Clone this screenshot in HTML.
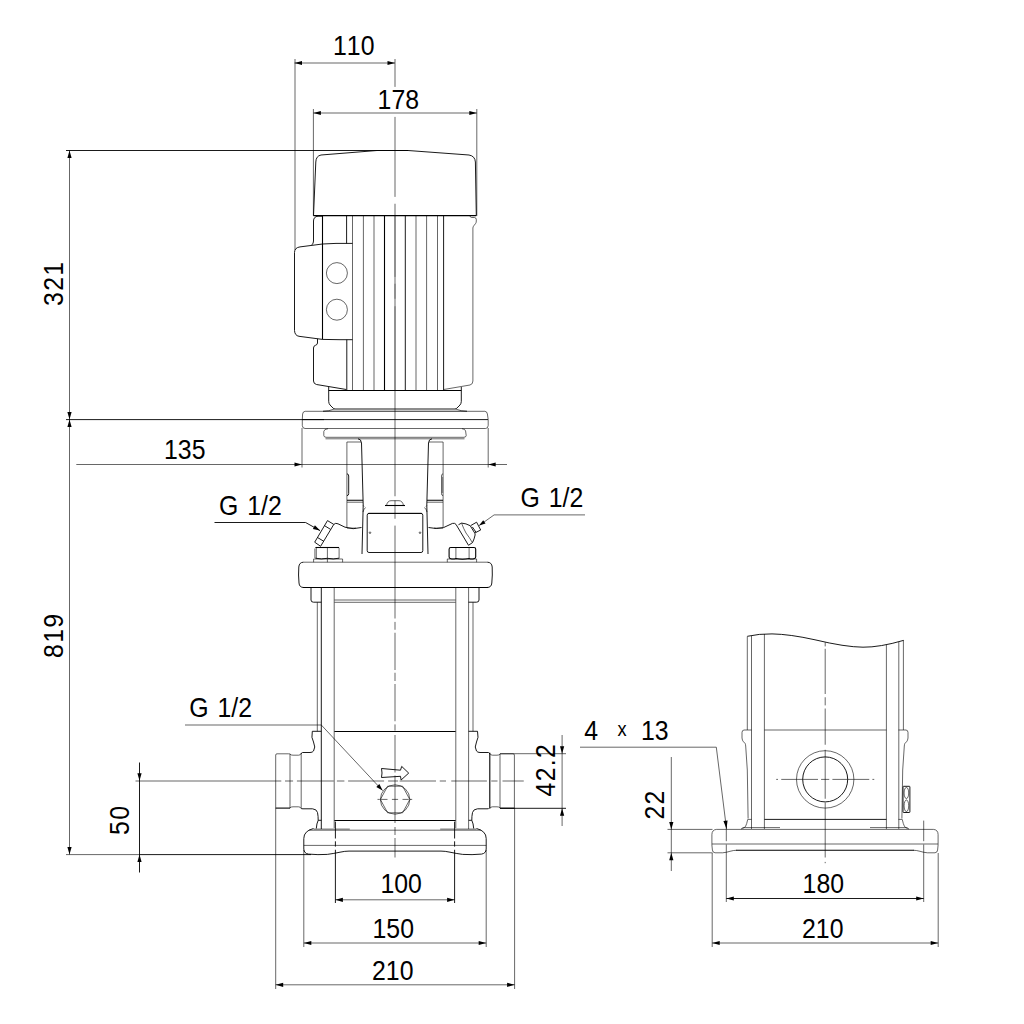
<!DOCTYPE html>
<html lang="en"><head><meta charset="utf-8"><title>Pump dimensional drawing</title>
<style>
html,body{margin:0;padding:0;background:#fff;overflow:hidden;}
body{width:1024px;height:1024px;overflow:hidden;}
svg{display:block;position:absolute;left:0;top:0;}
.k{stroke:#000;stroke-width:0.9;fill:none;}
.d{stroke:#000;stroke-width:1.1;fill:none;}
.g{stroke:#000;stroke-width:0.6;fill:none;}
.c{stroke:#000;stroke-width:0.6;fill:none;}
.h{stroke:#000;stroke-width:0.4;fill:none;}
.a{fill:#000;stroke:none;}
text{font-family:"Liberation Sans",Arial,Helvetica,sans-serif;font-size:27.3px;fill:#000;font-kerning:none;}
</style></head><body>
<svg width="1024" height="1024" viewBox="0 0 1024 1024">
<line class="c" x1="395.0" y1="59" x2="395.0" y2="86.9"/>
<line class="c" x1="395.0" y1="116.9" x2="395.0" y2="196.9"/>
<line class="c" x1="395.0" y1="203.75" x2="395.0" y2="496.25"/>
<line class="c" x1="395.0" y1="500.5" x2="395.0" y2="518.75"/>
<line class="c" x1="395.0" y1="525.6" x2="395.0" y2="618.5"/>
<line class="c" x1="395.0" y1="621.9" x2="395.0" y2="629.75"/>
<line class="c" x1="395.0" y1="632.75" x2="395.0" y2="670"/>
<line class="c" x1="395.0" y1="672.75" x2="395.0" y2="681"/>
<line class="c" x1="395.0" y1="684" x2="395.0" y2="721.25"/>
<line class="c" x1="395.0" y1="724.4" x2="395.0" y2="730.6"/>
<line class="c" x1="395.0" y1="735" x2="395.0" y2="772.5"/>
<line class="c" x1="395.0" y1="775.5" x2="395.0" y2="823"/>
<line class="c" x1="395.0" y1="827" x2="395.0" y2="835"/>
<line class="c" x1="395.0" y1="838" x2="395.0" y2="857.5"/>
<line class="h" x1="395.0" y1="215.6" x2="395.0" y2="276.9"/>
<line class="h" x1="395.0" y1="283.75" x2="395.0" y2="298.75"/>
<line class="h" x1="395.0" y1="306.25" x2="395.0" y2="390"/>
<line class="c" x1="295" y1="59" x2="295" y2="250"/>
<line class="g" x1="294.5" y1="63" x2="395.0" y2="63"/>
<path class="a" d="M294.50 63.00L302.00 60.90L302.00 65.10Z"/>
<path class="a" d="M395.00 63.00L387.50 65.10L387.50 60.90Z"/>
<text transform="translate(333 55) scale(0.91 1)" text-anchor="start">110</text>
<line class="g" x1="313.4" y1="109" x2="313.4" y2="216"/>
<line class="g" x1="476.8" y1="109" x2="476.8" y2="216"/>
<line class="g" x1="313.4" y1="113" x2="476.8" y2="113"/>
<path class="a" d="M313.40 113.00L320.90 110.90L320.90 115.10Z"/>
<path class="a" d="M476.80 113.00L469.30 115.10L469.30 110.90Z"/>
<text transform="translate(377.6 109) scale(0.91 1)" text-anchor="start">178</text>
<line class="k" x1="66" y1="150.5" x2="408" y2="150.5"/>
<line class="g" x1="69.5" y1="150.5" x2="69.5" y2="854.5"/>
<line class="k" x1="66" y1="419.6" x2="324" y2="419.6"/>
<line class="g" x1="66" y1="854.6" x2="139.5" y2="854.6"/>
<line class="k" x1="139.5" y1="854.6" x2="311" y2="854.6"/>
<path class="a" d="M69.50 150.50L71.60 158.00L67.40 158.00Z"/>
<path class="a" d="M69.50 419.50L67.40 412.00L71.60 412.00Z"/>
<path class="a" d="M69.50 419.50L71.60 427.00L67.40 427.00Z"/>
<path class="a" d="M69.50 854.60L67.40 847.10L71.60 847.10Z"/>
<text transform="translate(63 306) rotate(-90) scale(0.91 1)" text-anchor="start" style="letter-spacing:1.5px">321</text>
<text transform="translate(63 658) rotate(-90) scale(0.91 1)" text-anchor="start" style="letter-spacing:1.5px">819</text>
<line class="g" x1="76.3" y1="464.5" x2="507" y2="464.5"/>
<line class="g" x1="302" y1="428" x2="302" y2="467.5"/>
<line class="g" x1="488.2" y1="428" x2="488.2" y2="467.5"/>
<path class="a" d="M302.00 464.50L294.50 466.60L294.50 462.40Z"/>
<path class="a" d="M488.20 464.50L495.70 462.40L495.70 466.60Z"/>
<text transform="translate(164 458.7) scale(0.91 1)" text-anchor="start">135</text>
<text transform="translate(219 515) scale(0.91 1)" text-anchor="start" style="word-spacing:2.2px">G 1/2</text>
<path class="k" d="M214.5 522.5H305.6L320 530.6"/>
<path class="a" d="M320.00 530.60L312.87 529.00L314.93 525.34Z"/>
<text transform="translate(520.5 507) scale(0.91 1)" text-anchor="start" style="word-spacing:2.2px">G 1/2</text>
<path class="g" d="M585 514.9H494.1L479.1 525.6"/>
<path class="a" d="M479.10 525.60L483.18 520.16L485.53 523.40Z"/>
<text transform="translate(189.2 716.8) scale(0.91 1)" text-anchor="start" style="word-spacing:2.2px">G 1/2</text>
<path class="g" d="M185 725H321.3L382.6 790.6"/>
<path class="a" d="M382.60 790.60L376.29 786.92L379.36 784.05Z"/>
<line class="k" x1="139.5" y1="762.5" x2="139.5" y2="872.5"/>
<line class="c" x1="135.5" y1="781" x2="281.25" y2="781"/>
<path class="a" d="M139.50 780.70L137.40 773.20L141.60 773.20Z"/>
<path class="a" d="M139.50 854.60L141.60 862.10L137.40 862.10Z"/>
<text transform="translate(128.5 835) rotate(-90) scale(0.91 1)" text-anchor="start" style="letter-spacing:1.5px">50</text>
<line class="g" x1="500" y1="753.7" x2="566" y2="753.7"/>
<line class="k" x1="500" y1="808.3" x2="566" y2="808.3"/>
<line class="g" x1="562.1" y1="735" x2="562.1" y2="826"/>
<path class="a" d="M562.10 753.70L560.00 746.20L564.20 746.20Z"/>
<path class="a" d="M562.10 808.30L564.20 815.80L560.00 815.80Z"/>
<text transform="translate(555.4 796.5) rotate(-90) scale(0.91 1)" text-anchor="start" style="letter-spacing:1.5px">42.2</text>
<line class="g" x1="335.4" y1="899.8" x2="454.6" y2="899.8"/>
<path class="a" d="M335.40 899.80L342.90 897.70L342.90 901.90Z"/>
<path class="a" d="M454.60 899.80L447.10 901.90L447.10 897.70Z"/>
<text transform="translate(380.4 892.6) scale(0.91 1)" text-anchor="start">100</text>
<line class="g" x1="303.8" y1="850" x2="303.8" y2="947"/>
<line class="g" x1="486.2" y1="850" x2="486.2" y2="947"/>
<line class="g" x1="303.8" y1="943" x2="486.2" y2="943"/>
<path class="a" d="M303.80 943.00L311.30 940.90L311.30 945.10Z"/>
<path class="a" d="M486.20 943.00L478.70 945.10L478.70 940.90Z"/>
<text transform="translate(372.5 937.5) scale(0.91 1)" text-anchor="start">150</text>
<line class="g" x1="275.7" y1="808" x2="275.7" y2="989"/>
<line class="g" x1="514.6" y1="808" x2="514.6" y2="989"/>
<line class="g" x1="275.7" y1="984.8" x2="514.6" y2="984.8"/>
<path class="a" d="M275.70 984.80L283.20 982.70L283.20 986.90Z"/>
<path class="a" d="M514.60 984.80L507.10 986.90L507.10 982.70Z"/>
<text transform="translate(372 980) scale(0.91 1)" text-anchor="start">210</text>
<path class="k" d="M313.5 215.6 L315.8 162 Q316 156 321 155 L377 150.5 H408 L469 155 Q475 156 475.4 162 L476.3 215.6"/>
<line class="d" x1="313.5" y1="215.6" x2="476.3" y2="215.6"/>
<path class="k" d="M322.5 216.2 H318 Q313.6 216.6 313.5 221 V241 Q313.5 244.3 311.5 244.9"/>
<path class="k" d="M294.5 252.5 Q294.6 247.6 300 246.9 L322.5 244 L336 243.4 H352.5"/>
<path class="k" d="M294.5 252.5 V330.5 Q294.8 335.6 299 336.3 L322.5 339.4 L340 339.7 H352.5"/>
<line class="d" x1="322.5" y1="215.6" x2="322.5" y2="339.4"/>
<path class="k" d="M317.5 338.8 V343 Q317.4 344.8 315.5 345.3 Q313.5 345.8 313.5 348 V381 Q313.6 383.9 316.5 384.5 L346.3 389.5"/>
<line class="d" x1="328.7" y1="390.5" x2="461.3" y2="390.5"/>
<path class="g" d="M443.7 389.5 L470 385 Q472.9 384.3 472.9 381 V228 Q472.9 226.8 474 225.5 L475.6 223.5 Q476.3 222.6 476.3 221 V219.5 Q476.2 217.6 474.5 217.5 H471.5 Q470.3 217.4 470 216"/>
<line class="k" x1="346.6" y1="215.6" x2="346.6" y2="243.4"/>
<line class="k" x1="346.8" y1="339.7" x2="346.8" y2="390"/>
<line class="g" x1="352.5" y1="215.6" x2="352.5" y2="390"/>
<line class="g" x1="363.4" y1="215.6" x2="363.4" y2="390"/>
<line class="g" x1="374" y1="215.6" x2="374" y2="390"/>
<line class="g" x1="416" y1="215.6" x2="416" y2="390"/>
<line class="g" x1="426.6" y1="215.6" x2="426.6" y2="390"/>
<line class="g" x1="437.5" y1="215.6" x2="437.5" y2="390"/>
<line class="k" x1="405.3" y1="215.6" x2="405.3" y2="390"/>
<line class="k" x1="443.6" y1="215.6" x2="443.6" y2="390"/>
<line class="d" x1="384.5" y1="215.6" x2="384.5" y2="390"/>
<circle class="g" cx="336.9" cy="273.1" r="10.5"/>
<circle class="g" cx="336.9" cy="309.7" r="10.5"/>
<path class="k" d="M328.7 387 V401.5 Q328.8 403.5 330 405 L333.2 408.2 Q333.8 408.9 335 409 H455 Q456.2 408.9 456.8 408.2 L460 405 Q461.2 403.5 461.3 401.5 V387"/>
<path class="g" d="M334.4 409 Q329 411.2 323 411.3 M455.6 409 Q461 411.2 467 411.3"/>
<line class="h" x1="323" y1="411.2" x2="467" y2="411.2"/>
<path class="g" d="M305.2 411.3 H484.8 Q487 411.3 487.4 414 L488.2 419.5 V425.5 Q488 428.5 485.5 428.5 H305 Q302.4 428.5 302.3 425.5 V419.5 L302.6 414 Q303 411.3 305.2 411.3 Z"/>
<line class="k" x1="302" y1="419.6" x2="488" y2="419.6"/>
<path class="g" d="M328 428.7 Q324 429 323.8 431.5 V435.5 Q324 437.2 326 437.3 H464 Q466 437.2 466.2 435.5 L465.6 431 Q465.3 429 462 428.7"/>
<line class="g" x1="325.5" y1="438.8" x2="464.5" y2="438.8"/>
<path class="g" d="M346.9 527.6 V442 H361"/>
<path class="k" d="M358 438.8 Q361.2 439 361.5 443 L363.2 505 L362 554"/>
<path class="g" d="M443.1 527.6 V442 H429"/>
<path class="k" d="M432 438.8 Q428.8 439 428.5 443 L426.8 505 L428 554"/>
<path class="d" d="M347 500.3 H363 M427 500.3 H443"/>
<path class="g" d="M347 502.2 H363 M427 502.2 H443"/>
<path class="k" d="M347 473.8 Q348.7 474 348.7 476 V493.5 Q348.7 495.5 347 495.7"/>
<path class="g" d="M443 473.8 Q441.5 474 441.5 476 V493.5 Q441.5 495.5 443 495.7"/>
<line class="h" x1="442.6" y1="477" x2="442.6" y2="493"/>
<path class="g" d="M363.2 505.5 L364 506.5 M365.5 507.5 Q363.5 509.5 363 512"/>
<path class="g" d="M426.8 505.5 L426 506.5 M424.5 507.5 Q426.5 509.5 427 512"/>
<path class="k" d="M369 513.4 H421 Q422.8 513.4 422.8 515.2 V550.7 Q422.8 552.5 421 552.5 H369 Q367.2 552.5 367.2 550.7 V515.2 Q367.2 513.4 369 513.4"/>
<line class="k" x1="368" y1="513.4" x2="422" y2="513.4"/>
<circle class="g" cx="370" cy="532.7" r="0.8"/>
<circle class="g" cx="420" cy="532.7" r="0.8"/>
<path class="d" d="M385 505.5 H405"/>
<path class="g" d="M386.5 505.5 Q387.5 500.7 391 500.7 H399 Q402.5 500.7 403.5 505.5"/>
<path class="k" d="M333.8 524.4 Q335.5 522.6 338 523.8 L345 527.2 Q353 530 361.5 527.5"/>
<path class="k" d="M456 524.4 Q454.8 522.8 452.5 523.4 L443.5 527.6 Q436.5 529.5 428.5 527.5"/>
<line class="c" x1="347" y1="528.1" x2="356" y2="528.1"/>
<line class="c" x1="434" y1="528.1" x2="443" y2="528.1"/>
<path class="k" d="M327.5 520.6 L333.8 524.4 L320.6 546.3 L314.7 542.2 Z M324.4 525.6 L330.6 529.4 M317.5 537.5 L323.8 541.3"/>
<path class="k" d="M456 524.4 L468.5 545.3 L472.5 542.6 Q474.3 539 475.1 535 Q475.2 533.8 474.7 533 L470.2 525.7 Q466 523.4 461.6 523.1 L458.5 524.7"/>
<path class="g" d="M461.6 523.2 Q463.5 528.5 466 533 Q469.5 537.5 472.3 542.5"/>
<path class="k" d="M470.7 525.6 L476.6 522.2 L480.7 530 L475.1 532.8 M472.3 526.9 L476 532.2"/>
<line class="d" x1="315.4" y1="547.5" x2="339.1" y2="547.5"/>
<path class="c" d="M314.9 548.5 V558 M316.3 548 V558.4"/>
<line class="g" x1="339.1" y1="548" x2="339.1" y2="558.4"/>
<path class="k" d="M315.4 558.2 Q321.3 559.6 327.4 558.3 Q333.3 559.6 339.1 558.2"/>
<line class="g" x1="327.4" y1="547.5" x2="327.4" y2="562.2"/>
<path class="c" d="M313.6 562.2 V559 H342.6 V562.2"/>
<path class="d" d="M450.8 547.5 H474 Q475.7 547.5 475.7 549.2 V557 Q475.6 558.6 474 558.7 Q471.5 559.5 469.1 558.5 Q462.5 559.9 455.9 558.5 Q453.3 559.5 450.8 558.7 Q449.2 558.6 449.1 557 V549.2 Q449.1 547.5 450.8 547.5 Z"/>
<path class="g" d="M455.9 548 V558.5 M469.1 548 V558.5"/>
<path class="c" d="M447.3 562.2 V559 H476.6 V562.2"/>
<line class="g" x1="303.5" y1="562.2" x2="487.3" y2="562.2"/>
<path class="k" d="M487.3 562.2 Q491.8 562.3 492.2 567 Q492.6 575 491.8 583 Q491.5 587.5 487 587.5 H303.8 Q299.3 587.5 299 583 Q298.2 575 298.8 567 Q299.2 562.3 303.5 562.2"/>
<line class="k" x1="303" y1="587.5" x2="488" y2="587.5"/>
<path class="k" d="M311 587.5 V600 Q311 602.2 313.5 602.2 H321.3"/>
<path class="k" d="M479 587.5 V600 Q479 602.2 476.5 602.2 H468.5"/>
<line class="g" x1="334.4" y1="600" x2="455.6" y2="600"/>
<line class="g" x1="334.4" y1="602.3" x2="455.6" y2="602.3"/>
<line class="g" x1="317.3" y1="602.3" x2="317.3" y2="731.3"/>
<line class="k" x1="321.3" y1="587.5" x2="321.3" y2="829"/>
<line class="g" x1="334.2" y1="587.5" x2="334.2" y2="828"/>
<line class="g" x1="473" y1="602.3" x2="473" y2="731.3"/>
<line class="g" x1="468.6" y1="587.5" x2="468.6" y2="829"/>
<line class="g" x1="455.8" y1="587.5" x2="455.8" y2="828"/>
<line class="d" x1="334.4" y1="731.5" x2="455.6" y2="731.5"/>
<line class="d" x1="334.4" y1="820.5" x2="455.6" y2="820.5"/>
<path class="k" d="M321.3 731.3 H312.3 Q311 738 313.5 742 Q316 747.5 313.5 751 Q312.5 752.5 310 752.5 H302.5 Q301.2 752.8 301 754"/>
<path class="g" d="M290 754 Q289.8 753.8 288.5 753.8 H277 Q275.7 753.8 275.7 755 V808.1"/>
<line class="d" x1="275.7" y1="808.1" x2="290" y2="808.1"/>
<path class="g" d="M290 753.8 V808.2 M301.2 753.5 V808.5"/>
<path class="g" d="M290 754.2 Q291 755.2 293 755.2 H298.5 Q300.5 755.2 301.2 753.5 M290 807.8 Q291 806.8 293 806.8 H298.5 Q300.5 806.8 301.2 808.5"/>
<path class="k" d="M301.2 808.5 Q301.5 808.8 303 808.8 H312.5 Q316.8 809.2 317.5 812.5 Q318.3 816.5 318.2 820.3 H321.3 M318.2 820.3 Q316.6 823.5 316.3 828.5"/>
<path class="k" d="M468.6 731.3 H477.5 Q479 738 476.5 742 Q474 747.5 476.5 751 Q477.5 752.5 480 752.5 H488.5 Q489.5 752.8 489.8 754"/>
<line class="d" x1="489.8" y1="752.8" x2="489.8" y2="808.6"/>
<path class="g" d="M500 754 Q500.2 753.8 501.5 753.8 H513 Q514.4 753.8 514.4 755 V808.1"/>
<line class="d" x1="500" y1="808.2" x2="514.4" y2="808.2"/>
<path class="g" d="M500 753.8 V808.2"/>
<path class="g" d="M500 754.2 Q499 755.2 497 755.2 H492.5 Q490.5 755.2 489.8 753.5 M500 807.8 Q499 806.8 497 806.8 H492.5 Q490.5 806.8 489.8 808.5"/>
<path class="k" d="M488.8 808.5 Q488.5 808.8 487 808.8 H477.5 Q473.2 809.2 472.5 812.5 Q471.7 816.5 471.8 820.3 H468.7 M471.8 820.3 Q473.4 823.5 473.7 828.5"/>
<line class="c" x1="281.25" y1="781" x2="281.3" y2="781"/>
<line class="c" x1="285" y1="781" x2="293.1" y2="781"/>
<line class="c" x1="296.9" y1="781" x2="333.75" y2="781"/>
<line class="c" x1="336.9" y1="781" x2="344.4" y2="781"/>
<line class="c" x1="348.1" y1="781" x2="384.1" y2="781"/>
<line class="c" x1="388.1" y1="781" x2="398.1" y2="781"/>
<line class="c" x1="399.6" y1="781" x2="436" y2="781"/>
<line class="c" x1="439.75" y1="781" x2="446" y2="781"/>
<line class="c" x1="451.25" y1="781" x2="486.9" y2="781"/>
<line class="c" x1="491.25" y1="781" x2="497.5" y2="781"/>
<line class="c" x1="502.5" y1="781" x2="523.75" y2="781"/>
<path class="k" d="M381.5 768.5 L400.5 770.2 L401.7 766.4 L408.7 773.1 L401.1 780 L400.5 776.3 L381.5 777.5 Q382.5 773 381.5 768.5 Z"/>
<circle class="g" cx="395.1" cy="799.5" r="14.7"/>
<path class="g" d="M380.4 799.5 L387.6 786.2 H402.6 L409.8 799.5 L402.6 812.8 H387.6 Z"/>
<line class="g" x1="377.5" y1="799.4" x2="379.7" y2="799.4"/>
<line class="g" x1="380.6" y1="799.4" x2="387.5" y2="799.4"/>
<line class="g" x1="391.9" y1="799.4" x2="398.1" y2="799.4"/>
<line class="g" x1="402.5" y1="799.4" x2="408.75" y2="799.4"/>
<line class="g" x1="410" y1="799.4" x2="412.2" y2="799.4"/>
<path class="k" d="M313.5 828.5 Q308.5 829.8 306.3 832.2 Q303.8 834.6 303.8 838.5 V849 Q304 853.4 308.5 854.1 Q318 855 327.3 854.4 Q334 853.5 340 852.2 Q345 851.1 349 851.1 H395"/>
<line class="g" x1="309" y1="830.2" x2="395" y2="830.2"/>
<line class="g" x1="303.8" y1="845.4" x2="395" y2="845.4"/>
<line class="c" x1="313.5" y1="829.1" x2="349.8" y2="829.1"/>
<line class="k" x1="335.4" y1="821.6" x2="335.4" y2="838.5"/>
<line class="k" x1="335.4" y1="841.3" x2="335.4" y2="846.6"/>
<line class="k" x1="335.4" y1="849.75" x2="335.4" y2="903"/>
<path class="k" d="M313.5 828.5 Q308.5 829.8 306.3 832.2 Q303.8 834.6 303.8 838.5 V849 Q304 853.4 308.5 854.1 Q318 855 327.3 854.4 Q334 853.5 340 852.2 Q345 851.1 349 851.1 H395" transform="translate(790 0) scale(-1 1)"/>
<line class="g" x1="309" y1="830.2" x2="395" y2="830.2" transform="translate(790 0) scale(-1 1)"/>
<line class="g" x1="303.8" y1="845.4" x2="395" y2="845.4" transform="translate(790 0) scale(-1 1)"/>
<line class="c" x1="313.5" y1="829.1" x2="349.8" y2="829.1" transform="translate(790 0) scale(-1 1)"/>
<line class="k" x1="335.4" y1="821.6" x2="335.4" y2="838.5" transform="translate(790 0) scale(-1 1)"/>
<line class="k" x1="335.4" y1="841.3" x2="335.4" y2="846.6" transform="translate(790 0) scale(-1 1)"/>
<line class="k" x1="335.4" y1="849.75" x2="335.4" y2="903" transform="translate(790 0) scale(-1 1)"/>
<line class="c" x1="825.2" y1="642.3" x2="825.2" y2="646.4"/>
<line class="c" x1="825.2" y1="648.8" x2="825.2" y2="694"/>
<line class="c" x1="825.2" y1="697.25" x2="825.2" y2="705.4"/>
<line class="c" x1="825.2" y1="708.5" x2="825.2" y2="744.75"/>
<line class="c" x1="825.2" y1="749.75" x2="825.2" y2="798.75"/>
<line class="c" x1="825.2" y1="802.5" x2="825.2" y2="857.5"/>
<line class="c" x1="825.2" y1="861.9" x2="825.2" y2="863.2"/>
<path class="k" d="M747.3 636.3 Q759 633.7 772 633.9 Q790 634.2 815 639.8 Q845 647 863 647.2 Q880 647.3 903.5 640.4"/>
<line class="g" x1="747.3" y1="636.5" x2="747.3" y2="730"/>
<line class="g" x1="751.5" y1="636" x2="751.5" y2="829"/>
<line class="g" x1="764.4" y1="634" x2="764.4" y2="829"/>
<line class="g" x1="886.4" y1="645" x2="886.4" y2="829"/>
<line class="g" x1="898.8" y1="642" x2="898.8" y2="829"/>
<line class="g" x1="903.4" y1="640" x2="903.4" y2="730"/>
<line class="c" x1="764.4" y1="730" x2="886.4" y2="730"/>
<line class="k" x1="764.4" y1="819.4" x2="886.4" y2="819.4"/>
<circle class="g" cx="825.2" cy="779.4" r="28.7"/>
<circle class="k" cx="825.2" cy="779.4" r="22.5"/>
<line class="g" x1="776.2" y1="779.4" x2="778" y2="779.4"/>
<line class="g" x1="781.25" y1="779.4" x2="818" y2="779.4"/>
<line class="g" x1="821.1" y1="779.4" x2="829.25" y2="779.4"/>
<line class="g" x1="832.4" y1="779.4" x2="869.25" y2="779.4"/>
<line class="g" x1="872.4" y1="779.4" x2="874.25" y2="779.4"/>
<path class="g" d="M751.5 730 H744 Q742 730.2 742 732.5 V738 Q742.2 740.5 743.5 741.8 L745 743.3 Q745.5 744 745.7 746 L747.3 770 L748.1 818.5"/>
<path class="g" d="M751.5 730 H744 Q742 730.2 742 732.5 V738 Q742.2 740.5 743.5 741.8 L745 743.3 Q745.5 744 745.7 746 L747.3 770 L748.1 818.5" transform="translate(1650 0) scale(-1 1)"/>
<rect class="k" x="903" y="786.3" width="6.9" height="26.2" rx="0.6"/>
<ellipse class="g" cx="906.4" cy="793" rx="2.3" ry="5.6"/><ellipse class="g" cx="906.4" cy="805.8" rx="2.3" ry="5.8"/>
<path class="g" d="M825 829.4 H716.5 Q712 829.8 711.9 834.5 V845 L712.4 850 Q712.6 852.6 715 852.8 H722.5 Q726 852.6 730 851.3 Q733.5 850.3 736.3 850.3"/>
<line class="d" x1="736" y1="850.3" x2="825" y2="850.3"/>
<line class="c" x1="712" y1="844" x2="825" y2="844"/>
<line class="g" x1="742.5" y1="827.6" x2="780" y2="827.6"/>
<path class="g" d="M747.6 819.4 H751.5 M747.7 819.6 Q746.8 824 745.5 826.5 Q744 828.3 741 828.9"/>
<line class="g" x1="726.3" y1="826" x2="726.3" y2="841.2"/>
<line class="g" x1="726.3" y1="844.5" x2="726.3" y2="902"/>
<path class="g" d="M825 829.4 H716.5 Q712 829.8 711.9 834.5 V845 L712.4 850 Q712.6 852.6 715 852.8 H722.5 Q726 852.6 730 851.3 Q733.5 850.3 736.3 850.3" transform="translate(1650 0) scale(-1 1)"/>
<line class="d" x1="736" y1="850.3" x2="825" y2="850.3" transform="translate(1650 0) scale(-1 1)"/>
<line class="c" x1="712" y1="844" x2="825" y2="844" transform="translate(1650 0) scale(-1 1)"/>
<line class="g" x1="742.5" y1="827.6" x2="780" y2="827.6" transform="translate(1650 0) scale(-1 1)"/>
<path class="g" d="M747.6 819.4 H751.5 M747.7 819.6 Q746.8 824 745.5 826.5 Q744 828.3 741 828.9" transform="translate(1650 0) scale(-1 1)"/>
<line class="g" x1="726.3" y1="826" x2="726.3" y2="841.2" transform="translate(1650 0) scale(-1 1)"/>
<line class="g" x1="726.3" y1="844.5" x2="726.3" y2="902" transform="translate(1650 0) scale(-1 1)"/>
<line class="g" x1="923.7" y1="820.6" x2="923.7" y2="826"/>
<line class="g" x1="667.5" y1="829.4" x2="712.5" y2="829.4"/>
<line class="g" x1="667.5" y1="852.8" x2="712.5" y2="852.8"/>
<line class="g" x1="671.3" y1="757" x2="671.3" y2="871"/>
<path class="a" d="M671.30 829.40L669.20 821.90L673.40 821.90Z"/>
<path class="a" d="M671.30 852.80L673.40 860.30L669.20 860.30Z"/>
<text transform="translate(663.7 819.6) rotate(-90) scale(0.91 1)" text-anchor="start" style="letter-spacing:1.5px">22</text>
<text transform="translate(584.3 739.5) scale(0.91 1)">4 <tspan x="36.48" dy="-3.2" style="font-size:20px">x</tspan> <tspan x="62.31" dy="3.2">13</tspan></text>
<path class="g" d="M580 747.2 H716.3 L726.5 828.8"/>
<path class="a" d="M726.50 828.80L723.42 821.12L727.59 820.60Z"/>
<line class="k" x1="726.3" y1="898.5" x2="923.7" y2="898.5"/>
<path class="a" d="M726.30 898.50L733.80 896.40L733.80 900.60Z"/>
<path class="a" d="M923.70 898.50L916.20 900.60L916.20 896.40Z"/>
<text transform="translate(802.6 892.6) scale(0.91 1)" text-anchor="start">180</text>
<line class="g" x1="712.2" y1="853" x2="712.2" y2="947"/>
<line class="g" x1="938.2" y1="853" x2="938.2" y2="947"/>
<line class="g" x1="712.2" y1="943" x2="938.2" y2="943"/>
<path class="a" d="M712.20 943.00L719.70 940.90L719.70 945.10Z"/>
<path class="a" d="M938.20 943.00L930.70 945.10L930.70 940.90Z"/>
<text transform="translate(802 937.5) scale(0.91 1)" text-anchor="start">210</text>
</svg>
</body></html>
